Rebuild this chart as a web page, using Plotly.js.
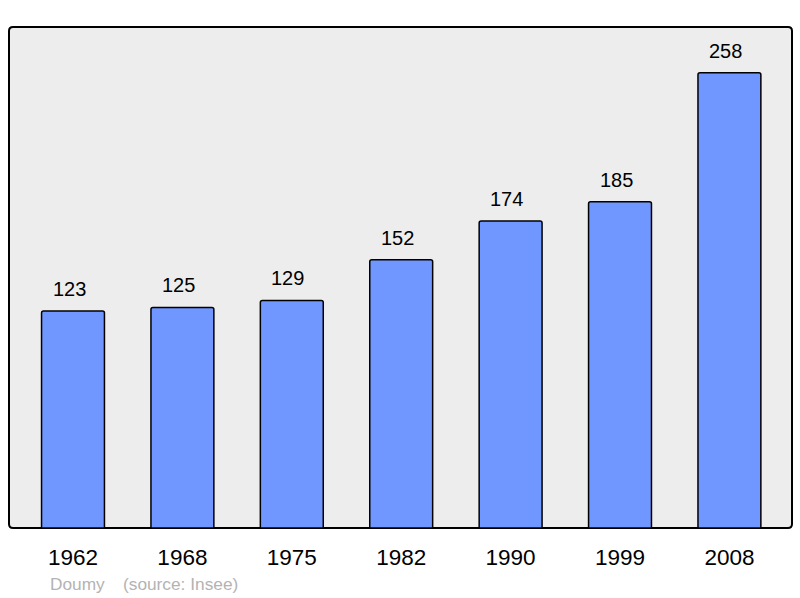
<!DOCTYPE html>
<html>
<head>
<meta charset="utf-8">
<script src="https://cdn.plot.ly/plotly-3.0.1.min.js"></script>
<style>
  html, body { margin: 0; padding: 0; background: #ffffff; }
  #main { width: 800px; height: 598px; }
</style>
</head>
<body>
<div id="main"></div>
<script>
const years = ['1962', '1968', '1975', '1982', '1990', '1999', '2008']
const population = [123, 125, 129, 152, 174, 185, 258]
const author = 'Doumy'
const source = '(source: Insee)'

const xIdx = years.map((y, i) => i)

const bars = {
  x: xIdx,
  y: population,
  type: 'bar',
  width: 0.575,
  marker: {
    color: '#7097ff',
    line: { color: '#000000', width: 1.5 },
    cornerradius: 2
  },
  hoverinfo: 'skip'
}

const valueLabels = population.map((v, i) => ({
  x: i,
  y: v,
  xref: 'x',
  yref: 'y',
  text: String(v),
  showarrow: false,
  yanchor: 'bottom',
  yshift: 9,
  xshift: -4,
  font: { family: 'Liberation Sans, Arial, sans-serif', size: 20, color: '#000000' }
}))

const footer = [
  { text: author, x: 48, y: 584 },
  { text: source, x: 121, y: 584 }
].map(f => ({
  text: f.text,
  xref: 'paper',
  yref: 'paper',
  x: (f.x - 9) / 783,
  y: (528 - f.y) / 501,
  xanchor: 'left',
  yanchor: 'middle',
  showarrow: false,
  font: { family: 'Liberation Sans, Arial, sans-serif', size: 17.3, color: '#b3b3b3' }
}))

// rounded frame, pixel coords relative to the plot corner
const r = 4
const frame = 'M 9 ' + (27 + r) + ' Q 9 27 ' + (9 + r) + ' 27 L ' + (792 - r) + ' 27 Q 792 27 792 ' + (27 + r) +
  ' L 792 ' + (528 - r) + ' Q 792 528 ' + (792 - r) + ' 528 L ' + (9 + r) + ' 528 Q 9 528 9 ' + (528 - r) + ' Z'

const layout = {
  width: 800,
  height: 598,
  margin: { l: 9, r: 8, t: 27, b: 70, pad: 0 },
  paper_bgcolor: '#ffffff',
  plot_bgcolor: 'rgba(0,0,0,0)',
  showlegend: false,
  xaxis: {
    range: [-0.585, 6.572],
    tickvals: xIdx,
    ticktext: years,
    ticks: 'outside',
    ticklen: 9,
    tickcolor: 'rgba(0,0,0,0)',
    showgrid: false,
    zeroline: false,
    showline: false,
    fixedrange: true,
    tickfont: { family: 'Liberation Sans, Arial, sans-serif', size: 22.5, color: '#000000' }
  },
  yaxis: {
    range: [0, 284],
    showticklabels: false,
    showgrid: false,
    zeroline: false,
    showline: false,
    ticks: '',
    fixedrange: true
  },
  shapes: [
    {
      type: 'path',
      xref: 'paper',
      yref: 'paper',
      xsizemode: 'pixel',
      ysizemode: 'pixel',
      xanchor: 0,
      yanchor: 0,
      path: frame.replace(/(-?\d+(\.\d+)?) (-?\d+(\.\d+)?)/g, (m, a, _b, c) => (a - 9) + ' ' + (528 - c)),
      fillcolor: '#ededed',
      line: { color: '#000000', width: 2 },
      layer: 'below'
    }
  ],
  annotations: valueLabels.concat(footer)
}

Plotly.newPlot('main', [bars], layout, { displayModeBar: false, staticPlot: true })
</script>
</body>
</html>
